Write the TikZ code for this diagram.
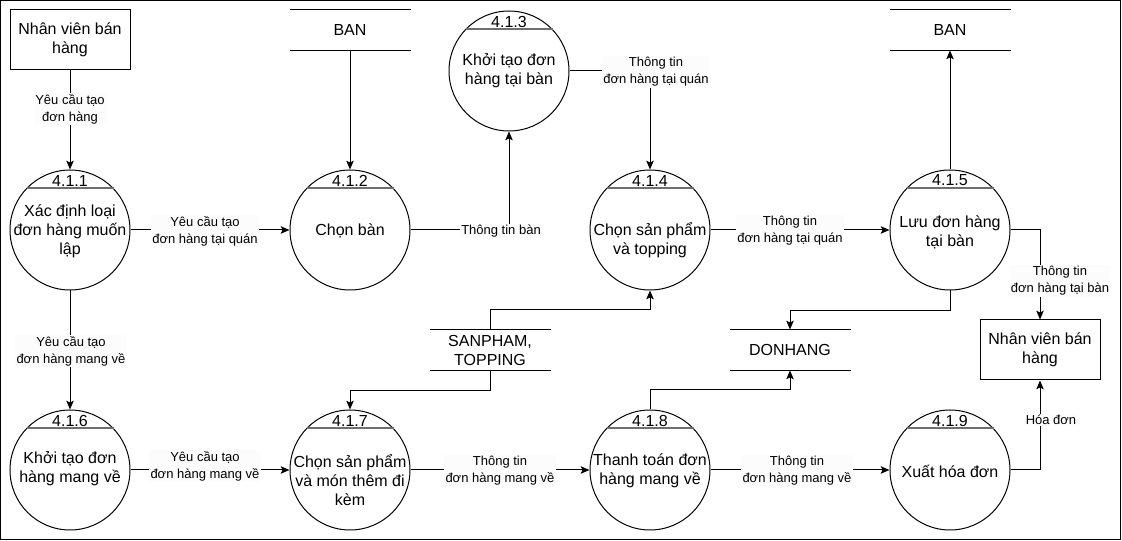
\documentclass[tikz,border=0pt]{standalone}
\usepackage{fontspec}
\setmainfont{Liberation Sans}
\usetikzlibrary{arrows.meta,calc}
\definecolor{labelbg}{RGB}{252,252,253}
\definecolor{hdrline}{RGB}{110,110,110}
\tikzset{
  every picture/.style={line width=0.75pt},
  proc/.style={draw, circle, minimum size=90pt, inner sep=0pt},
  ptext/.style={font=\fontsize{12}{14.25}\selectfont, align=center, inner sep=0pt},
  pnum/.style={font=\fontsize{12}{14}\selectfont, inner sep=0pt},
  hdr/.style={draw=hdrline, line width=1.4pt},
  entity/.style={draw, rectangle, minimum width=90pt, minimum height=45pt, inner sep=2pt, align=center, font=\fontsize{12}{14.25}\selectfont},
  store/.style={rectangle, minimum width=90pt, minimum height=30pt, inner sep=0pt, align=center, font=\fontsize{12}{14.25}\selectfont},
  flow/.style={-{Stealth[length=6.5pt,width=5.5pt,inset=1.2pt]}},
  lbl/.style={font=\fontsize{9.75}{12.75}\selectfont, fill=labelbg, inner sep=1pt, align=center},
}
\begin{document}
\begin{tikzpicture}[x=0.75pt,y=-0.75pt]
\useasboundingbox (0,0) rectangle (1122,541);
\draw (0.5,0.5) rectangle (1120.5,539.5);

% entities
\node[entity] (e1) at (70,40) {Nhân viên bán\\hàng};
\node[entity] (e2) at (1040,350) {Nhân viên bán\\hàng};

% data stores
\node[store] (s1) at (350,30) {BAN};
\node[store] (s2) at (950,30) {BAN};
\node[store] (s3) at (490,350) {SANPHAM,\\TOPPING};
\node[store] (s4) at (790,350) {DONHANG};
\foreach \s in {s1,s2,s3,s4}{
  \draw (\s.north west) -- (\s.north east);
  \draw (\s.south west) -- (\s.south east);
}

% processes
\node[proc] (c1) at (70,230) {};
\node[proc] (c2) at (350,230) {};
\node[proc] (c3) at (509,71) {};
\node[proc] (c4) at (650,230) {};
\node[proc] (c5) at (950,230) {};
\node[proc] (c6) at (70,470) {};
\node[proc] (c7) at (350,470) {};
\node[proc] (c8) at (650,470) {};
\node[proc] (c9) at (950,470) {};
\foreach \c/\num in {c1/4.1.1,c2/4.1.2,c3/4.1.3,c4/4.1.4,c5/4.1.5,c6/4.1.6,c7/4.1.7,c8/4.1.8,c9/4.1.9}{
  \draw[hdr] ($(\c.center)+(-43.5,-42)$) -- ($(\c.center)+(43.5,-42)$);
  \node[pnum] (n\c) at ($(\c.center)+(0,-49.5)$) {\num};
}
\node[ptext] (t1) at (70,231) {Xác định loại\\đơn hàng muốn\\lập};
\node[ptext] (t2) at (350,231) {Chọn bàn};
\node[ptext] (t3) at (509,71) {Khởi tạo đơn\\hàng tại bàn};
\node[ptext] (t4) at (650,240) {Chọn sản phẩm\\và topping};
\node[ptext] (t5) at (950,232) {Lưu đơn hàng\\tại bàn};
\node[ptext] (t6) at (70,469) {Khởi tạo đơn\\hàng mang về};
\node[ptext] (t7) at (350,480) {Chọn sản phẩm\\và món thêm đi\\kèm};
\node[ptext] (t8) at (650,471) {Thanh toán đơn\\hàng mang về};
\node[ptext] (t9) at (950,471) {Xuất hóa đơn};

% flows
\draw[flow] (e1.south) -- (c1.north);
\node[lbl] (l1) at (70,109) {Yêu cầu tạo\\đơn hàng};

\draw[flow] (c1.east) -- (c2.west);
\node[lbl] (l2) at (205,231) {Yêu cầu tạo\\đơn hàng tại quán};

\draw[flow] (s1.south) -- (c2.north);

\draw[flow] (c2.east) -| (c3.south);
\node[lbl] (l4) at (501,231) {Thông tin bàn};

\draw[flow] (c3.east) -| (c4.north);
\node[lbl] (l5) at (656,72) {Thông tin\\đơn hàng tại quán};

\draw[flow] (c4.east) -- (c5.west);
\node[lbl] (l6) at (790,231) {Thông tin\\đơn hàng tại quán};

\draw[flow] (c5.north) -- (s2.south);

\draw[flow] (c5.east) -| (e2.north);
\node[lbl] (l8) at (1060,281) {Thông tin\\đơn hàng tại bàn};

\draw[flow] (c5.south) -- ++(0,20) -| (s4.north);

\draw[flow] (s3.north) -- ++(0,-20) -| (c4.south);
\draw[flow] (s3.south) -- ++(0,20) -| (c7.north);

\draw[flow] (c1.south) -- (c6.north);
\node[lbl] (l12) at (71,351) {Yêu cầu tạo\\đơn hàng mang về};

\draw[flow] (c6.east) -- (c7.west);
\node[lbl] (l13) at (205,466) {Yêu cầu tạo\\đơn hàng mang về};

\draw[flow] (c7.east) -- (c8.west);
\node[lbl] (l14) at (500,471) {Thông tin\\đơn hàng mang về};

\draw[flow] (c8.north) -- ++(0,-20) -| (s4.south);

\draw[flow] (c8.east) -- (c9.west);
\node[lbl] (l16) at (797,471) {Thông tin\\đơn hàng mang về};

\draw[flow] (c9.east) -| (e2.south);
\node[lbl] (l17) at (1051,420) {Hóa đơn};
\end{tikzpicture}
\end{document}
